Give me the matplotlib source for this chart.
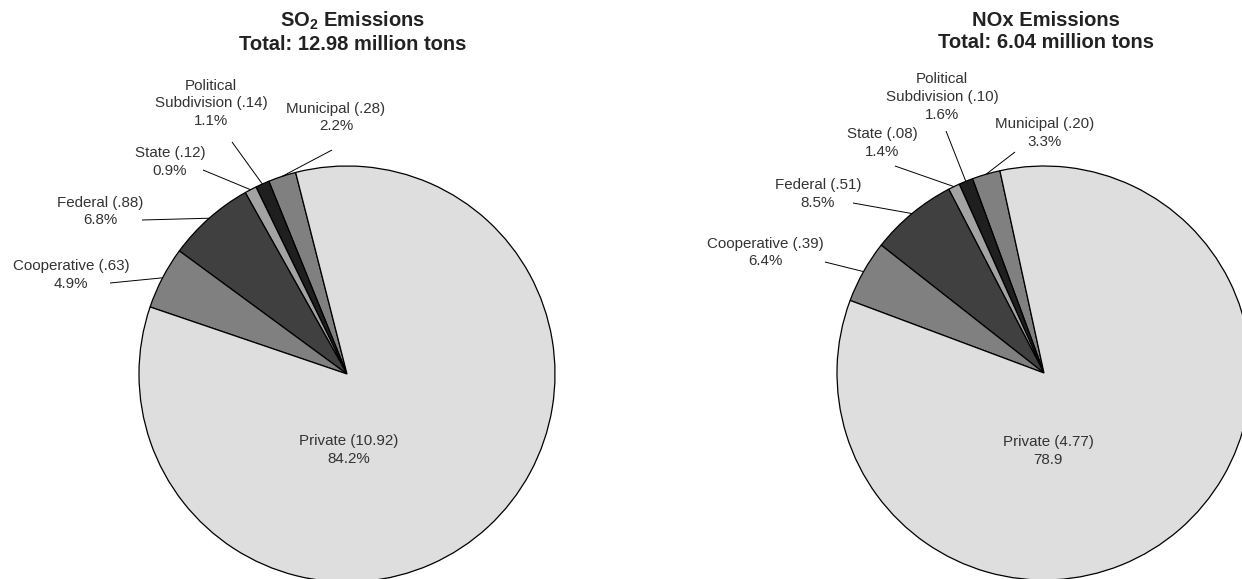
import numpy as np
import matplotlib
matplotlib.use("Agg")
import matplotlib.pyplot as plt

plt.rcParams['font.family'] = ['Liberation Sans', 'DejaVu Sans']
plt.rcParams['mathtext.fontset'] = 'custom'
plt.rcParams['mathtext.rm'] = 'Liberation Sans'
plt.rcParams['mathtext.bf'] = 'Liberation Sans:bold'

# ---------------- data ----------------
categories = ["Municipal", "Political\nSubdivision", "State", "Federal", "Cooperative", "Private"]

so2_values = [0.28, 0.14, 0.12, 0.88, 0.63, 10.92]
so2_value_labels = [".28", ".14", ".12", ".88", ".63", "10.92"]
so2_pct_labels = ["2.2%", "1.1%", "0.9%", "6.8%", "4.9%", "84.2%"]
so2_title = r"SO$_\mathbf{2}$ Emissions" + "\nTotal: 12.98 million tons"

nox_values = [0.20, 0.10, 0.08, 0.51, 0.39, 4.77]
nox_value_labels = [".20", ".10", ".08", ".51", ".39", "4.77"]
nox_pct_labels = ["3.3%", "1.6%", "1.4%", "8.5%", "6.4%", "78.9"]
nox_title = "NOx Emissions\nTotal: 6.04 million tons"
# wedge shares of the NOx pie as drawn in the reference (percent)
nox_drawn_shares = [2.2, 1.1, 0.9, 6.8, 4.9, 84.2]

wedge_colors = ['#808080', '#1f1f1f', '#a3a3a3', '#404040', '#808080', '#dedede']

# ---------------- layout (pixel space) ----------------
W, H = 1242, 579
fig = plt.figure(figsize=(W / 100, H / 100), dpi=100)
ax = fig.add_axes([0, 0, 1, 1])

def Y(yp):
    return H - yp

pies = [
    dict(values=so2_values, vlabels=so2_value_labels, plabels=so2_pct_labels,
         title=so2_title, center=(347, 374), radius=208, start=104.3, title_x=353,
         label_pos=[(336, 117.5), (211, 103.5), (170, 162), (100, 211.5), (71, 275), (349, 450)],
         leader_start=[(332, 150), (232, 142), (203, 170), (142, 220), (110, 283)]),
    dict(values=nox_drawn_shares, vlabels=nox_value_labels, plabels=nox_pct_labels,
         title=nox_title, center=(1044, 373), radius=207, start=102.3, title_x=1046,
         label_pos=[(1045, 133), (942, 97), (882, 143), (818, 194), (765, 252.5), (1048, 451)],
         leader_start=[(1015, 152), (946, 131), (895, 166), (853, 203), (825, 262)]),
]

for p in pies:
    cx, cy = p['center']
    wedges, _ = ax.pie(p['values'], colors=wedge_colors, startangle=p['start'],
                       counterclock=True, radius=p['radius'], center=(cx, Y(cy)),
                       frame=True,
                       wedgeprops=dict(edgecolor='black', linewidth=0.9))
    for i, (name, vl, pl) in enumerate(zip(categories, p['vlabels'], p['plabels'])):
        lx, ly = p['label_pos'][i]
        ax.text(lx, Y(ly), f"{name} ({vl})\n{pl}", ha='center', va='center',
                fontsize=10.9, color='#333333', linespacing=1.33)
    for i, w in enumerate(wedges[:5]):
        mid = np.deg2rad((w.theta1 + w.theta2) / 2)
        ex = cx + p['radius'] * np.cos(mid)
        ey = Y(cy) + p['radius'] * np.sin(mid)
        sx, sy = p['leader_start'][i]
        ax.plot([sx, ex], [Y(sy), ey], color='black', linewidth=0.7,
                solid_capstyle='butt')
    ax.text(p['title_x'], Y(31.5), p['title'], ha='center', va='center',
            fontsize=14.5, fontweight='bold', color='#222222', linespacing=1.2)

ax.set_xlim(0, W)
ax.set_ylim(0, H)
ax.set_aspect('equal')
ax.axis('off')

fig.savefig("out.png", dpi=100, facecolor='white')
